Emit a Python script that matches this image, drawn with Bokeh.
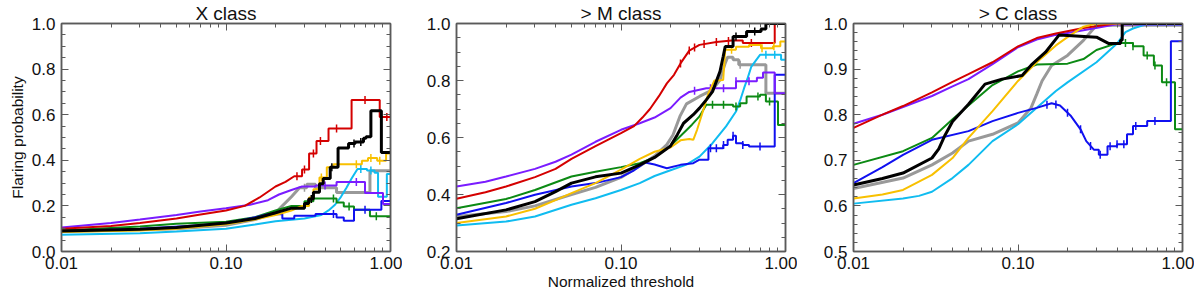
import numpy as np
from bokeh.plotting import figure
from bokeh.layouts import row
from bokeh.models import (Range1d, FixedTicker, PrintfTickFormatter,
                          SingleIntervalTicker, LinearAxis, LogAxis)
from bokeh.embed import file_html
from bokeh.resources import INLINE

# ---------------- data ----------------
titles = ["X class", "> M class", "> C class"]
series_names = ["gray", "cyan", "green", "blue", "purple", "red", "yellow", "black"]

# Panel 1: X class
X_red_x = [0.01, 0.02, 0.03, 0.05, 0.07, 0.1, 0.13, 0.16, 0.2, 0.23, 0.26, 0.29, 0.32, 0.355, 0.42, 0.58, 0.86]
X_red_y = [0.100, 0.112, 0.125, 0.145, 0.162, 0.18, 0.20, 0.237, 0.285, 0.305, 0.33, 0.36, 0.43, 0.485, 0.54, 0.665, 0.59]
X_purple_x = [0.01, 0.02, 0.03, 0.05, 0.07, 0.1, 0.14, 0.18, 0.21, 0.25, 0.29, 0.35, 0.47, 0.70, 0.90]
X_purple_y = [0.105, 0.125, 0.14, 0.16, 0.175, 0.19, 0.205, 0.225, 0.25, 0.27, 0.285, 0.29, 0.305, 0.257, 0.208]
X_black_x = [0.01, 0.03, 0.05, 0.1, 0.15, 0.2, 0.25, 0.3, 0.318, 0.34, 0.37, 0.39, 0.43, 0.48, 0.556, 0.61, 0.685, 0.71, 0.76, 0.88]
X_black_y = [0.09, 0.098, 0.105, 0.125, 0.145, 0.17, 0.19, 0.21, 0.23, 0.26, 0.297, 0.32, 0.37, 0.454, 0.474, 0.48, 0.497, 0.503, 0.617, 0.434]
X_yellow_x = [0.01, 0.03, 0.05, 0.1, 0.15, 0.2, 0.25, 0.29, 0.32, 0.34, 0.37, 0.41, 0.45, 0.67, 0.73, 0.83, 0.94]
X_yellow_y = [0.085, 0.092, 0.1, 0.12, 0.14, 0.16, 0.18, 0.2, 0.237, 0.273, 0.325, 0.37, 0.383, 0.398, 0.41, 0.398, 0.43]
X_gray_x = [0.01, 0.05, 0.1, 0.15, 0.2, 0.22, 0.25, 0.28, 0.31, 0.35, 0.47, 0.75]
X_gray_y = [0.088, 0.1, 0.115, 0.14, 0.17, 0.2, 0.24, 0.28, 0.295, 0.28, 0.259, 0.354]
X_green_x = [0.01, 0.03, 0.05, 0.1, 0.15, 0.2, 0.25, 0.3, 0.34, 0.47, 0.52, 0.6, 0.75]
X_green_y = [0.092, 0.11, 0.122, 0.13, 0.15, 0.18, 0.2, 0.22, 0.232, 0.215, 0.197, 0.183, 0.155]
X_blue_x = [0.01, 0.03, 0.07, 0.1, 0.13, 0.16, 0.18, 0.22, 0.26, 0.35, 0.47, 0.52, 0.6, 0.88]
X_blue_y = [0.088, 0.1, 0.115, 0.125, 0.14, 0.155, 0.163, 0.145, 0.157, 0.165, 0.149, 0.135, 0.183, 0.222]
X_cyan_x = [0.01, 0.03, 0.05, 0.1, 0.15, 0.2, 0.3, 0.38, 0.42, 0.46, 0.5, 0.54, 0.58, 0.63, 0.72, 0.8, 0.84, 0.95]
X_cyan_y = [0.073, 0.08, 0.088, 0.1, 0.118, 0.133, 0.145, 0.16, 0.18, 0.205, 0.24, 0.28, 0.32, 0.362, 0.355, 0.345, 0.24, 0.34]

# Panel 2: > M class
M_purple_x = [0.01, 0.015, 0.02, 0.03, 0.04, 0.05, 0.07, 0.1, 0.13, 0.16, 0.2, 0.23, 0.26, 0.33, 0.5, 0.67, 0.73, 0.86]
M_purple_y = [0.428, 0.445, 0.463, 0.49, 0.515, 0.54, 0.585, 0.627, 0.65, 0.67, 0.703, 0.74, 0.76, 0.773, 0.797, 0.81, 0.828, 0.755]
M_red_x = [0.01, 0.015, 0.02, 0.03, 0.04, 0.05, 0.07, 0.1, 0.12, 0.135, 0.15, 0.17, 0.19, 0.21, 0.23, 0.26, 0.3, 0.38, 0.47, 0.55, 0.86]
M_red_y = [0.385, 0.408, 0.428, 0.461, 0.49, 0.525, 0.57, 0.615, 0.64, 0.67, 0.70, 0.745, 0.79, 0.82, 0.86, 0.905, 0.925, 0.935, 0.94, 0.932, 1.0]
M_black_x = [0.01, 0.02, 0.03, 0.04, 0.05, 0.07, 0.1, 0.13, 0.16, 0.2, 0.22, 0.24, 0.275, 0.3, 0.33, 0.36, 0.4, 0.418, 0.43, 0.48, 0.58, 0.71, 0.76]
M_black_y = [0.315, 0.346, 0.375, 0.41, 0.44, 0.462, 0.475, 0.504, 0.53, 0.57, 0.61, 0.65, 0.68, 0.703, 0.732, 0.761, 0.832, 0.884, 0.919, 0.954, 0.972, 0.981, 1.0]
M_gray_x = [0.01, 0.02, 0.03, 0.05, 0.07, 0.1, 0.13, 0.16, 0.19, 0.207, 0.228, 0.25, 0.3, 0.36, 0.4, 0.43, 0.445, 0.48, 0.52, 0.76]
M_gray_y = [0.323, 0.34, 0.36, 0.40, 0.425, 0.46, 0.50, 0.535, 0.575, 0.609, 0.674, 0.718, 0.744, 0.767, 0.802, 0.861, 0.882, 0.873, 0.855, 0.755]
M_green_x = [0.01, 0.02, 0.03, 0.05, 0.07, 0.1, 0.13, 0.16, 0.2, 0.23, 0.27, 0.3, 0.33, 0.48, 0.53, 0.58, 0.7, 0.76, 0.9]
M_green_y = [0.352, 0.384, 0.416, 0.463, 0.48, 0.496, 0.51, 0.53, 0.57, 0.605, 0.645, 0.674, 0.715, 0.709, 0.72, 0.744, 0.75, 0.726, 0.644]
M_blue_x = [0.01, 0.02, 0.03, 0.05, 0.07, 0.1, 0.12, 0.14, 0.16, 0.19, 0.23, 0.275, 0.3, 0.34, 0.418, 0.445, 0.48, 0.5, 0.55, 0.6, 0.86]
M_blue_y = [0.329, 0.37, 0.399, 0.428, 0.44, 0.461, 0.485, 0.512, 0.505, 0.492, 0.504, 0.51, 0.522, 0.562, 0.574, 0.592, 0.606, 0.58, 0.574, 0.568, 0.82]
M_yellow_x = [0.01, 0.02, 0.03, 0.04, 0.05, 0.07, 0.1, 0.13, 0.16, 0.2, 0.23, 0.26, 0.275, 0.29, 0.31, 0.34, 0.37, 0.418, 0.43, 0.5, 0.6, 0.71, 0.84, 0.93]
M_yellow_y = [0.30, 0.323, 0.35, 0.38, 0.405, 0.44, 0.487, 0.525, 0.55, 0.565, 0.59, 0.595, 0.592, 0.627, 0.68, 0.755, 0.8, 0.802, 0.908, 0.918, 0.925, 0.913, 0.92, 0.937]
M_cyan_x = [0.01, 0.02, 0.03, 0.05, 0.07, 0.1, 0.13, 0.16, 0.2, 0.25, 0.3, 0.36, 0.435, 0.5, 0.53, 0.56, 0.59, 0.62, 0.7, 0.94]
M_cyan_y = [0.291, 0.305, 0.323, 0.364, 0.387, 0.416, 0.44, 0.465, 0.485, 0.505, 0.533, 0.58, 0.639, 0.691, 0.73, 0.773, 0.81, 0.849, 0.89, 0.873]

# Panel 3: > C class
C_red_x = [0.01, 0.015, 0.02, 0.03, 0.04, 0.05, 0.07, 0.1, 0.13, 0.17, 0.25, 0.39]
C_red_y = [0.771, 0.80, 0.819, 0.849, 0.872, 0.889, 0.915, 0.95, 0.968, 0.978, 0.99, 1.0]
C_purple_x = [0.01, 0.015, 0.02, 0.03, 0.04, 0.05, 0.07, 0.1, 0.13, 0.17, 0.25, 0.39]
C_purple_y = [0.78, 0.80, 0.817, 0.841, 0.862, 0.878, 0.911, 0.948, 0.965, 0.975, 0.985, 0.998]
C_black_x = [0.01, 0.015, 0.02, 0.03, 0.033, 0.036, 0.04, 0.05, 0.063, 0.08, 0.106, 0.122, 0.147, 0.178, 0.3, 0.357, 0.42, 0.43]
C_black_y = [0.646, 0.66, 0.672, 0.705, 0.725, 0.755, 0.785, 0.823, 0.867, 0.878, 0.886, 0.911, 0.937, 0.975, 0.97, 0.956, 0.963, 1.0]
C_green_x = [0.01, 0.02, 0.03, 0.04, 0.05, 0.07, 0.1, 0.13, 0.2, 0.25, 0.3, 0.4, 0.5, 0.58, 0.67, 0.75, 0.9]
C_green_y = [0.69, 0.72, 0.749, 0.79, 0.82, 0.865, 0.895, 0.91, 0.912, 0.922, 0.942, 0.957, 0.95, 0.93, 0.908, 0.871, 0.768]
C_blue_x = [0.01, 0.015, 0.02, 0.03, 0.05, 0.07, 0.1, 0.13, 0.16, 0.18, 0.21, 0.24, 0.26, 0.29, 0.31, 0.35, 0.4, 0.46, 0.5, 0.61, 0.85]
C_blue_y = [0.65, 0.685, 0.712, 0.745, 0.764, 0.786, 0.804, 0.815, 0.825, 0.82, 0.797, 0.768, 0.742, 0.723, 0.712, 0.731, 0.735, 0.757, 0.775, 0.786, 0.961]
C_gray_x = [0.01, 0.02, 0.03, 0.04, 0.05, 0.07, 0.1, 0.12, 0.13, 0.14, 0.16, 0.2, 0.25, 0.3]
C_gray_y = [0.638, 0.661, 0.69, 0.716, 0.742, 0.757, 0.782, 0.815, 0.845, 0.874, 0.908, 0.93, 0.963, 0.996]
C_yellow_x = [0.01, 0.015, 0.02, 0.03, 0.04, 0.05, 0.07, 0.1, 0.13, 0.17, 0.2, 0.25, 0.3]
C_yellow_y = [0.616, 0.625, 0.635, 0.668, 0.705, 0.749, 0.808, 0.874, 0.915, 0.952, 0.97, 0.993, 1.0]
C_cyan_x = [0.01, 0.02, 0.025, 0.03, 0.04, 0.05, 0.07, 0.1, 0.13, 0.17, 0.2, 0.3, 0.4, 0.45, 0.5, 0.6]
C_cyan_y = [0.605, 0.616, 0.622, 0.631, 0.661, 0.69, 0.742, 0.779, 0.815, 0.852, 0.871, 0.915, 0.956, 0.981, 0.989, 0.998]

# thresholds at which error-bar crosses are drawn on each curve
X_err = {"red": [0.27, 0.30, 0.34, 0.375, 0.47, 0.70, 0.95], "black": [0.33, 0.44, 0.60, 0.66],
         "yellow": [0.38, 0.62, 0.76, 0.86], "purple": [0.40, 0.62], "green": [0.45, 0.56, 0.82],
         "blue": [0.45, 0.70], "cyan": [0.66, 0.76, 0.90], "gray": [0.30]}
M_err = {"red": [0.23, 0.26, 0.28, 0.32, 0.38, 0.45, 0.62], "purple": [0.28, 0.35, 0.42, 0.50, 0.60],
         "green": [0.36, 0.42, 0.50, 0.68, 0.80], "blue": [0.35, 0.38, 0.42, 0.48, 0.55, 0.70],
         "yellow": [0.47, 0.72, 0.85], "cyan": [0.76, 0.86], "gray": [0.53], "black": [0.50, 0.65]}
C_err = {"blue": [0.15, 0.17, 0.2, 0.24, 0.276, 0.316, 0.363, 0.40, 0.44, 0.52, 0.68],
         "green": [0.45, 0.5, 0.61, 0.68, 0.8]}

y_ranges = [(0.0, 1.0), (0.2, 1.0), (0.5, 1.0)]
x_ticks = [0.01, 0.1, 1.0]

# ---------------- style ----------------
colors = {"red": "#d40000", "black": "#000000", "yellow": "#f8c000",
          "gray": "#999999", "purple": "#7a1cff", "green": "#0c8a14",
          "blue": "#1010f0", "cyan": "#10bcf0"}
widths = {"red": 2, "black": 3, "yellow": 2, "gray": 3, "purple": 2,
          "green": 2, "blue": 2, "cyan": 2}
# threshold above which each curve is drawn as a staircase (coarse steps)
step_from = [
    {"red": 0.28, "purple": 0.3, "black": 0.29, "yellow": 0.3, "gray": 0.3,
     "green": 0.3, "blue": 0.2, "cyan": 0.7},
    {"red": 0.5, "purple": 0.5, "black": 0.45, "yellow": 0.45, "gray": 0.45,
     "green": 0.45, "blue": 0.33, "cyan": 0.9},
    {"red": 2, "purple": 2, "black": 0.4, "yellow": 2, "gray": 2,
     "green": 0.5, "blue": 0.3, "cyan": 2},
]
y_major = [0.2, 0.2, 0.1]
y_minor_n = [4, 4, 5]

prefixes = ["X", "M", "C"]
panel_data = [
    {n: (globals()["%s_%s_x" % (pre, n)], globals()["%s_%s_y" % (pre, n)]) for n in series_names}
    for pre in prefixes
]
panel_err = [X_err, M_err, C_err]

FONT = "Liberation Sans"
AX_COLOR = "#5a5a5a"
x_minor = [m * d for d in (0.01, 0.1) for m in range(2, 10)]

borders_left = [61, 54, 56]
borders_right = [12, 12, 12]
FRAME_W = 329
FRAME_H = 228
ERR_HALF_PX = 4.0


def style_axis(ax, show_labels=True):
    ax.axis_line_color = AX_COLOR
    ax.axis_line_width = 1.5
    ax.major_tick_line_color = AX_COLOR
    ax.minor_tick_line_color = AX_COLOR
    ax.major_tick_in = 7
    ax.major_tick_out = 0
    ax.minor_tick_in = 4
    ax.minor_tick_out = 0
    ax.major_label_text_font = FONT
    ax.major_label_text_color = "#111111"
    if show_labels:
        ax.major_label_text_font_size = "17px"
        ax.major_label_standoff = 6
    else:
        ax.major_label_text_font_size = "1px"
        ax.major_label_text_alpha = 0
        ax.major_label_standoff = 0


def path(xs, ys, xstep):
    px, py = [xs[0]], [ys[0]]
    for k in range(1, len(xs)):
        if xs[k] >= xstep:
            px.append(xs[k])
            py.append(ys[k - 1])
        px.append(xs[k])
        py.append(ys[k])
    px.append(1.0)
    py.append(ys[-1])
    return px, py


figs = []
for i in range(3):
    p = figure(x_axis_type="log", frame_width=FRAME_W, frame_height=FRAME_H,
               x_range=Range1d(0.01, 1.0), y_range=Range1d(*y_ranges[i]),
               output_backend="svg", toolbar_location=None,
               min_border_left=borders_left[i], min_border_right=borders_right[i],
               min_border_top=4, min_border_bottom=4)
    p.title.text = titles[i]
    p.title.align = "center"
    p.title.text_font = FONT
    p.title.text_font_size = "19px"
    p.title.text_font_style = "normal"
    p.title.text_color = "#111111"
    p.title.standoff = 0
    p.grid.visible = False
    p.outline_line_color = AX_COLOR
    p.outline_line_width = 1.5

    p.xaxis.ticker = FixedTicker(ticks=x_ticks, minor_ticks=x_minor)
    p.xaxis.formatter = PrintfTickFormatter(format="%.2f")
    p.yaxis.ticker = SingleIntervalTicker(interval=y_major[i], num_minor_ticks=y_minor_n[i])
    p.yaxis.formatter = PrintfTickFormatter(format="%.1f")
    style_axis(p.xaxis[0])
    style_axis(p.yaxis[0])
    p.xaxis.major_label_standoff = 5
    if i == 0:
        p.yaxis.axis_label = "Flaring probability"
    if i == 1:
        p.xaxis.axis_label = "Normalized threshold"
    for ax in (p.xaxis[0], p.yaxis[0]):
        ax.axis_label_text_font = FONT
        ax.axis_label_text_font_size = "15.5px"
        ax.axis_label_text_font_style = "normal"
        ax.axis_label_text_color = "#111111"
        ax.axis_label_standoff = 3
    p.xaxis.axis_label_standoff = 1

    top = LogAxis(ticker=FixedTicker(ticks=x_ticks, minor_ticks=x_minor))
    style_axis(top, show_labels=False)
    p.add_layout(top, "above")
    right = LinearAxis(ticker=SingleIntervalTicker(interval=y_major[i], num_minor_ticks=y_minor_n[i]))
    style_axis(right, show_labels=False)
    p.add_layout(right, "right")

    half = ERR_HALF_PX * (y_ranges[i][1] - y_ranges[i][0]) / FRAME_H
    for name in series_names:
        xs, ys = panel_data[i][name]
        px, py = path(xs, ys, step_from[i][name])
        p.line(px, py, line_color=colors[name], line_width=widths[name])
        ex = panel_err[i].get(name, [])
        if ex:
            ey = np.interp(np.log10(ex), np.log10(px), py)
            p.segment(x0=ex, y0=list(ey - half), x1=ex, y1=list(ey + half),
                      line_color=colors[name], line_width=1.5)
    figs.append(p)

layout = row(*figs)
open("out.html", "w").write(file_html(layout, INLINE))
